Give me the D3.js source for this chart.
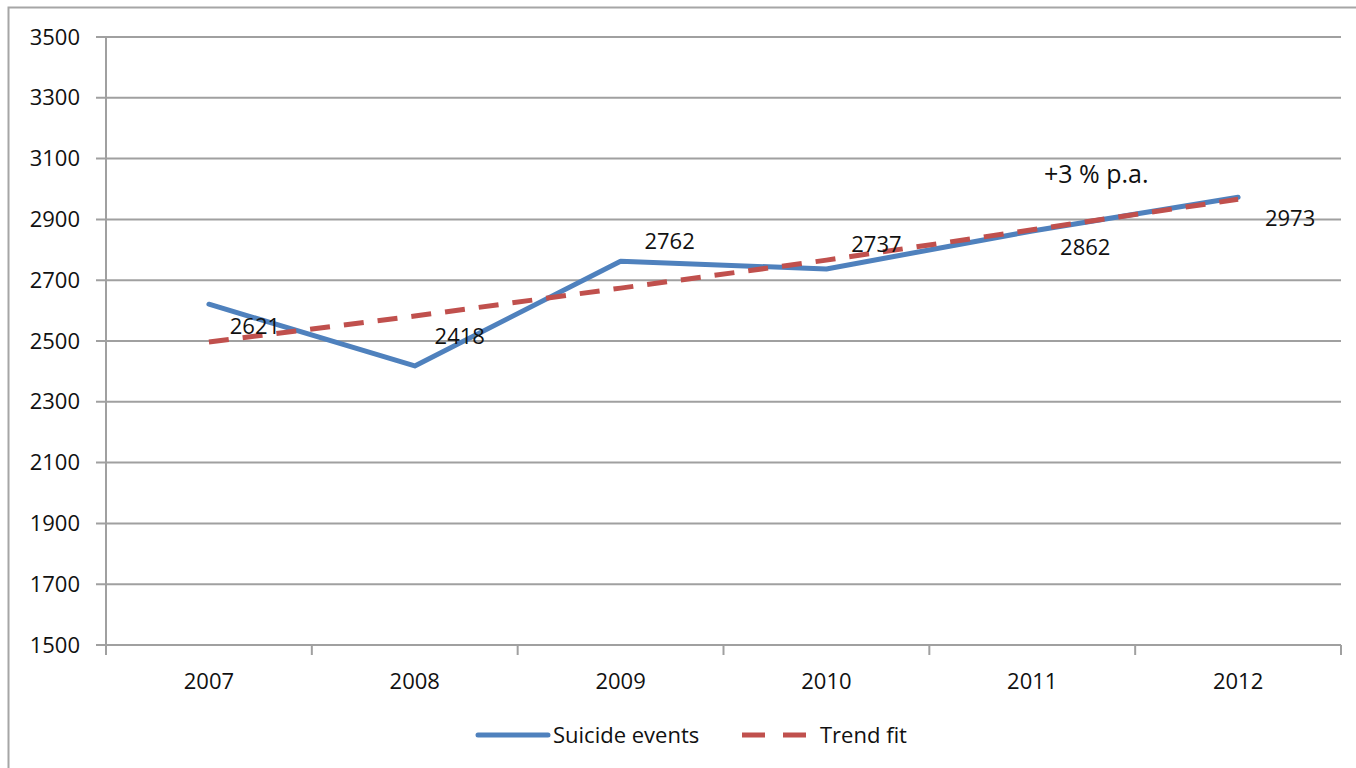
<!DOCTYPE html>
<html>
<head>
<meta charset="utf-8">
<script src="https://cdn.jsdelivr.net/npm/d3@7"></script>
<style>
    body { margin: 0; background: #fff; }
    svg { display: block; }
    text { font-family: "Open Sans", "Liberation Sans", sans-serif; fill: #111; }
</style>
</head>
<body>
<div id="chart"></div>
<script>
// Data.
const years = ["2007", "2008", "2009", "2010", "2011", "2012"];
const suicideEvents = [2621, 2418, 2762, 2737, 2862, 2973];
const trendFit = [2497, 2582, 2674, 2766, 2866, 2966];
const yTicks = [1500, 1700, 1900, 2100, 2300, 2500, 2700, 2900, 3100, 3300, 3500];
const seriesNames = ["Suicide events", "Trend fit"];
const annotation = "+3 % p.a.";

// Label offsets from each point (px), as placed in the original.
const labelOffsets = [[46, 30], [45, -22], [49, -12], [50, -17], [53, 24], [52, 29]];

const W = 1356, H = 768;
const margin = { top: 37, left: 106, right: 15, bottom: 123 };
const width = W - margin.left - margin.right;
const height = H - margin.top - margin.bottom;

const svg = d3.select("#chart").append("svg")
    .attr("width", W)
    .attr("height", H);

// Outer chart border.
svg.append("rect")
    .attr("x", 8.5).attr("y", 7.5)
    .attr("width", W + 20).attr("height", H + 20)
    .style("fill", "none")
    .style("stroke", "#a6a6a6")
    .style("stroke-width", 2);

const g = svg.append("g")
    .attr("transform", "translate(" + margin.left + "," + margin.top + ")");

const x = d3.scaleBand().domain(years).range([0, width]);
const y = d3.scaleLinear().domain([1500, 3500]).range([height, 0]);
const cx = d => x(d) + x.bandwidth() / 2;

// Horizontal grid lines, extending out as tick marks.
g.append("g")
    .selectAll("line")
    .data(yTicks)
    .join("line")
    .attr("x1", -10).attr("x2", width)
    .attr("y1", d => y(d)).attr("y2", d => y(d))
    .style("stroke", "#a0a0a0")
    .style("stroke-width", 2);

// Y axis labels.
const yAxis = g.append("g")
    .call(d3.axisLeft(y).tickValues(yTicks).tickFormat(d3.format("d")).tickSize(0).tickPadding(26));
yAxis.select(".domain").remove();
yAxis.selectAll("text").style("font-size", "22px").style("font-family", null);

g.append("line")
    .attr("x1", 0).attr("x2", 0)
    .attr("y1", 0).attr("y2", height + 10)
    .style("stroke", "#a0a0a0")
    .style("stroke-width", 2);

// X axis with ticks at band edges.
const edges = years.map(d => x(d)).concat([width]);
g.append("g")
    .selectAll("line")
    .data(edges)
    .join("line")
    .attr("x1", d => d).attr("x2", d => d)
    .attr("y1", height).attr("y2", height + 10)
    .style("stroke", "#a0a0a0")
    .style("stroke-width", 2);

g.append("line")
    .attr("x1", 0).attr("x2", width)
    .attr("y1", height).attr("y2", height)
    .style("stroke", "#a0a0a0")
    .style("stroke-width", 2);

g.append("g")
    .selectAll("text")
    .data(years)
    .join("text")
    .attr("x", d => cx(d))
    .attr("y", height + 44)
    .attr("text-anchor", "middle")
    .style("font-size", "22px")
    .text(d => d);

const line = d3.line()
    .x((d, i) => cx(years[i]))
    .y(d => y(d));

// Suicide events, blue.
g.append("path")
    .attr("d", line(suicideEvents))
    .style("fill", "none")
    .style("stroke", "#4f81bd")
    .style("stroke-width", 5)
    .style("stroke-linejoin", "round")
    .style("stroke-linecap", "round");

// Trend fit, red dashed.
g.append("path")
    .attr("d", line(trendFit))
    .style("fill", "none")
    .style("stroke", "#c0504d")
    .style("stroke-width", 5)
    .style("stroke-dasharray", "20 14");

// Data labels.
g.append("g")
    .selectAll("text")
    .data(suicideEvents)
    .join("text")
    .attr("x", (d, i) => cx(years[i]) + labelOffsets[i][0])
    .attr("y", (d, i) => y(d) + labelOffsets[i][1])
    .attr("text-anchor", "middle")
    .style("font-size", "22px")
    .text(d => d);

// Growth annotation.
g.append("text")
    .attr("x", cx("2011") + 64)
    .attr("y", y(3020))
    .attr("text-anchor", "middle")
    .style("font-size", "25px")
    .text(annotation);

// Legend.
const legend = svg.append("g").attr("transform", "translate(478,735)");
legend.append("line")
    .attr("x1", 0).attr("x2", 70)
    .style("stroke", "#4f81bd")
    .style("stroke-width", 5)
    .style("stroke-linecap", "round");
legend.append("text")
    .attr("x", 75).attr("y", 8)
    .style("font-size", "22px")
    .text(seriesNames[0]);
legend.append("line")
    .attr("x1", 264).attr("x2", 329)
    .style("stroke", "#c0504d")
    .style("stroke-width", 5)
    .style("stroke-dasharray", "23 18")
    .style("stroke-linecap", "butt");
legend.append("text")
    .attr("x", 342).attr("y", 8)
    .style("font-size", "22px")
    .text(seriesNames[1]);
</script>
</body>
</html>
